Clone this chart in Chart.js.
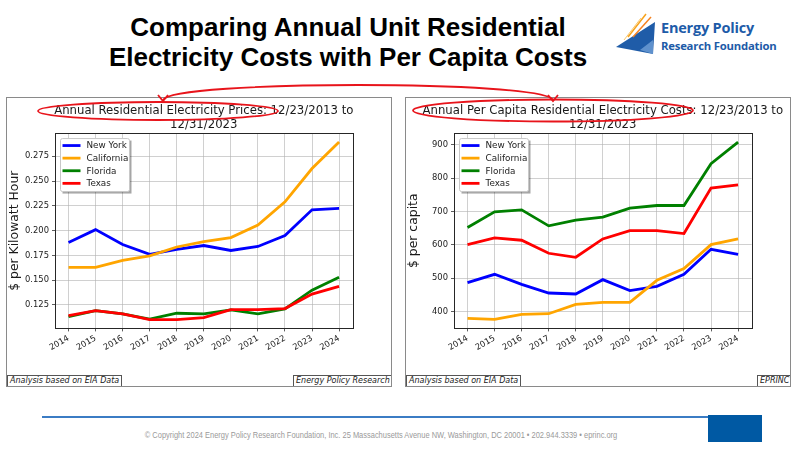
<!DOCTYPE html>
<html>
<head>
<meta charset="utf-8">
<script src="https://cdn.jsdelivr.net/npm/chart.js@4.4.1/dist/chart.umd.min.js"></script>
<style>
  html, body { margin: 0; padding: 0; background: #fff; }
  body { width: 800px; height: 450px; position: relative; overflow: hidden; font-family: "Liberation Sans", Arial, sans-serif; }
  .headline { position: absolute; left: 98px; width: 500px; top: 12px; text-align: center; font-weight: bold; font-size: 26px; line-height: 30px; color: #000; }
  .logo-text1 { position: absolute; left: 661px; top: 18px; font-family: "Open Sans", sans-serif; font-weight: 700; font-size: 14.5px; color: #1d5ba8; letter-spacing: -0.2px; }
  .logo-text2 { position: absolute; left: 661px; top: 38px; font-family: "Open Sans", sans-serif; font-weight: 700; font-size: 11.3px; color: #1d5ba8; letter-spacing: -0.2px; }
  .panel { position: absolute; top: 97px; width: 384px; height: 288px; border: 1px solid #8a8a8a; overflow: hidden; background: #fff; }
  .panel canvas { position: absolute; left: 0; top: 0; }
  .note { position: absolute; top: 277px; height: 10px; border: 1px solid #555; font-family: "DejaVu Sans", sans-serif; font-style: italic; font-size: 8px; line-height: 10px; color: #222; padding: 0 2px; white-space: nowrap; background: #fff; }
  .rule { position: absolute; left: 42px; top: 416px; width: 666px; height: 2px; background: #3b7cc4; }
  .square { position: absolute; left: 708px; top: 415px; width: 54px; height: 27px; background: #0059a3; }
  .copy { position: absolute; left: 81px; width: 600px; top: 430px; text-align: center; font-family: "Liberation Sans", Arial, sans-serif; font-size: 9px; color: #9a9a9a; white-space: nowrap; transform: scaleX(0.83); transform-origin: 50% 50%; }
  svg.overlay { position: absolute; left: 0; top: 0; pointer-events: none; }
</style>
</head>
<body>
<div class="headline">Comparing Annual Unit Residential<br>Electricity Costs with Per Capita Costs</div>

<svg class="overlay" width="800" height="450" style="z-index:0">
  <polygon points="616,47 655,22 653,54" fill="#1f5ca8"/>
  <polygon points="640,50 653,40 653,54" fill="#6f9fd6" opacity="0.8"/>
  <line x1="628" y1="37" x2="646" y2="14" stroke="#f7a21b" stroke-width="1.5"/>
  <line x1="633" y1="37" x2="651" y2="17" stroke="#f58220" stroke-width="1.5"/>
  <line x1="624" y1="40" x2="641" y2="18" stroke="#fbc86a" stroke-width="1"/>
</svg>
<div class="logo-text1">Energy Policy</div>
<div class="logo-text2">Research Foundation</div>

<div class="panel" style="left:6px">
  <canvas id="priceChart" width="384" height="288"></canvas>
  <div class="note" style="left:0">Analysis based on EIA Data</div>
  <div class="note" style="left:286px">Energy Policy Research Foundation</div>
</div>
<div class="panel" style="left:405px">
  <canvas id="capitaChart" width="384" height="288"></canvas>
  <div class="note" style="left:0">Analysis based on EIA Data</div>
  <div class="note" style="left:351px">EPRINC</div>
</div>

<svg class="overlay" width="800" height="450" style="z-index:5">
  <g fill="none" stroke="#e8141b" stroke-width="1.8">
    <ellipse cx="158" cy="111" rx="120" ry="9"/>
    <ellipse cx="553" cy="110.5" rx="140" ry="11"/>
    <path d="M163,100 C172,80 544,80 553,100"/>
    <path d="M158,95 L163,101 L168,95"/>
    <path d="M548,95 L553,101 L558,95"/>
  </g>
</svg>

<div class="rule"></div>
<div class="square"></div>
<div class="copy">© Copyright 2024 Energy Policy Research Foundation, Inc. 25 Massachusetts Avenue NW, Washington, DC 20001 • 202.944.3339 • eprinc.org</div>

<script>
// 데이터
const years = ['2014', '2015', '2016', '2017', '2018', '2019', '2020', '2021', '2022', '2023', '2024'];
const states = ['New York', 'California', 'Florida', 'Texas'];
const stateColors = ['#0000ff', '#ffa500', '#008000', '#ff0000'];

// $ per kWh
const priceNY = [0.188, 0.201, 0.186, 0.176, 0.181, 0.185, 0.180, 0.184, 0.195, 0.221, 0.2225];
const priceCA = [0.163, 0.163, 0.170, 0.1745, 0.1835, 0.189, 0.193, 0.2057, 0.229, 0.2626, 0.2894];
const priceFL = [0.1133, 0.1194, 0.116, 0.1107, 0.1167, 0.116, 0.120, 0.116, 0.121, 0.140, 0.153];
const priceTX = [0.1143, 0.1194, 0.116, 0.1103, 0.1103, 0.1123, 0.1204, 0.1204, 0.1214, 0.136, 0.1438];
const priceTicks = [0.125, 0.150, 0.175, 0.200, 0.225, 0.250, 0.275];

// $ per capita
const capitaNY = [487, 512, 482, 456, 453, 496, 463, 476, 512, 587, 572];
const capitaCA = [380, 377, 392, 394, 422, 428, 428, 494, 529, 601, 618];
const capitaFL = [652, 699, 705, 657, 674, 683, 710, 718, 718, 843, 908];
const capitaTX = [601, 621, 614, 575, 563, 618, 643, 643, 634, 770, 780];
const capitaTicks = [400, 500, 600, 700, 800, 900];

Chart.defaults.font.family = "'DejaVu Sans', sans-serif";
Chart.defaults.color = '#222';

// 제목이 축 폭보다 길어도 눌리지 않도록 (축 가운데 정렬 유지)
const wideTitlePlugin = {
  id: 'wideTitle',
  afterLayout(chart) {
    const t = chart.titleBlock;
    if (!t) return;
    const c = (chart.chartArea.left + chart.chartArea.right) / 2;
    t.left = c - 200;
    t.right = c + 200;
    t.width = 400;
  }
};

// 축 테두리
const framePlugin = {
  id: 'frame',
  afterDraw(chart) {
    const a = chart.chartArea;
    const ctx = chart.ctx;
    ctx.save();
    ctx.strokeStyle = '#262626';
    ctx.lineWidth = 1;
    ctx.strokeRect(Math.round(a.left) + 0.5, Math.round(a.top) + 0.5, Math.round(a.right - a.left), Math.round(a.bottom - a.top));
    ctx.restore();
  }
};

// matplotlib 스타일 범례 (왼쪽 위)
const boxLegendPlugin = {
  id: 'boxLegend',
  afterDraw(chart) {
    const a = chart.chartArea;
    const ctx = chart.ctx;
    const x = a.left + 5.5, y = a.top + 5.5, w = 69, h = 53;
    ctx.save();
    ctx.fillStyle = 'rgba(0,0,0,0.35)';
    ctx.fillRect(x + 2, y + 2, w, h);
    ctx.fillStyle = '#fff';
    ctx.strokeStyle = '#c8c8c8';
    ctx.lineWidth = 1;
    ctx.beginPath();
    ctx.roundRect(x, y, w, h, 2);
    ctx.fill();
    ctx.stroke();
    ctx.font = "8.8px 'DejaVu Sans'";
    ctx.textBaseline = 'middle';
    chart.data.datasets.forEach((ds, i) => {
      const ry = y + 7 + i * 12.6;
      ctx.strokeStyle = ds.borderColor;
      ctx.lineWidth = 2.8;
      ctx.beginPath();
      ctx.moveTo(x + 2, ry);
      ctx.lineTo(x + 20, ry);
      ctx.stroke();
      ctx.fillStyle = '#222';
      ctx.fillText(ds.label, x + 26, ry + 0.5);
    });
    ctx.restore();
  }
};

function makeChart(canvasId, titleLines, yTitle, series, yMin, yMax, tickValues, tickFormat) {
  return new Chart(document.getElementById(canvasId), {
    type: 'line',
    data: {
      labels: years,
      datasets: series.map((values, i) => ({
        label: states[i],
        data: values,
        borderColor: stateColors[i],
        backgroundColor: stateColors[i],
        borderWidth: 2.8,
        pointRadius: 0,
        tension: 0,
        order: series.length - 1 - i,
      })),
    },
    options: {
      responsive: false,
      animation: false,
      layout: { padding: { left: 0, right: 38.4, top: 0, bottom: 0 } },
      plugins: {
        legend: { display: false },
        tooltip: { enabled: false },
        title: {
          display: true,
          text: titleLines,
          fullSize: false,
          color: '#1a1a1a',
          font: { size: 11.7, weight: 'normal', lineHeight: 1.22 },
          padding: { top: 5.5, bottom: 1 },
        },
      },
      scales: {
        x: {
          type: 'category',
          offset: true,
          border: { display: false },
          grid: { offset: false, color: 'rgba(176,176,176,0.75)', lineWidth: 0.8, tickColor: '#333', tickLength: 3 },
          ticks: { minRotation: 30, maxRotation: 30, autoSkip: false, padding: 2, font: { size: 8.4 }, color: '#222' },
          afterFit: (scale) => { scale.height = 57.6; },
        },
        y: {
          min: yMin,
          max: yMax,
          border: { display: false },
          grid: { color: 'rgba(176,176,176,0.75)', lineWidth: 0.8, tickColor: '#333', tickLength: 3 },
          ticks: { padding: 3, font: { size: 8.4 }, color: '#222', callback: tickFormat },
          afterBuildTicks: (scale) => { scale.ticks = tickValues.map(v => ({ value: v })); },
          afterFit: (scale) => { scale.width = 48; },
          title: { display: true, text: yTitle, color: '#1a1a1a', font: { size: 12.4 }, padding: { top: 0, bottom: 0 } },
        },
      },
    },
    plugins: [wideTitlePlugin, framePlugin, boxLegendPlugin],
  });
}

makeChart('priceChart',
  ['Annual Residential Electricity Prices: 12/23/2013 to', '12/31/2023'],
  '$ per Kilowatt Hour',
  [priceNY, priceCA, priceFL, priceTX],
  0.1014, 0.2984, priceTicks, (v) => Number(v).toFixed(3));

makeChart('capitaChart',
  ['Annual Per Capita Residential Electricity Costs: 12/23/2013 to', '12/31/2023'],
  '$ per capita',
  [capitaNY, capitaCA, capitaFL, capitaTX],
  350, 935, capitaTicks, (v) => String(v));
</script>
</body>
</html>
